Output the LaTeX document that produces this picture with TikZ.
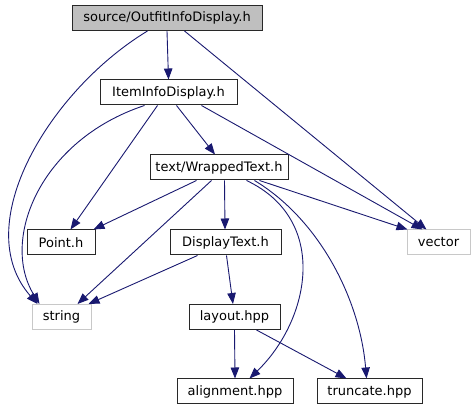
\documentclass[tikz,border=0pt]{standalone}
\usepackage{fontspec}
\usepackage{tikz}
\usetikzlibrary{arrows.meta, positioning}
\newfontfamily\dejavu{DejaVu Sans}
\definecolor{edgeblue}{RGB}{25,25,112}
\definecolor{hdrgray}{RGB}{191,191,191}
\definecolor{extgray}{RGB}{200,200,200}
\definecolor{boxdark}{RGB}{40,40,40}
\tikzset{
  filebox/.style={rectangle, draw=boxdark, fill=white, line width=1pt,
    minimum height=25pt, inner sep=0pt, font=\dejavu\fontsize{13}{15}\selectfont},
  rootbox/.style={filebox, fill=hdrgray},
  extbox/.style={filebox, draw=extgray},
  arrow/.style={-{Triangle[length=11pt,width=8.5pt]}, line width=0.9pt, color=edgeblue}
}
\begin{document}
\begin{tikzpicture}[x=1pt, y=-1pt]
  \useasboundingbox (0,0) rectangle (475,411);

  \node[rootbox, minimum width=190pt] (outfit) at (167,18) {source/OutfitInfoDisplay.h};
  \node[filebox, minimum width=137pt] (item) at (168.5,92.5) {ItemInfoDisplay.h};
  \node[filebox, minimum width=138pt] (wrapped) at (219,167.5) {text/WrappedText.h};
  \node[filebox, minimum width=68pt] (point) at (61,242.5) {Point.h};
  \node[filebox, minimum width=111pt] (display) at (225.5,242.5) {DisplayText.h};
  \node[extbox, minimum width=63pt] (vector) at (438.5,242.5) {vector};
  \node[extbox, minimum width=59pt] (string) at (61.5,317) {string};
  \node[filebox, minimum width=91pt] (layout) at (234.5,317) {layout.hpp};
  \node[filebox, minimum width=116pt] (align) at (235,391.5) {alignment.hpp};
  \node[filebox, minimum width=105pt] (trunc) at (369.5,391.5) {truncate.hpp};

  % source/OutfitInfoDisplay.h
  \draw[arrow] (outfit.south) -- (item.north);
  \draw[arrow] ([xshift=76pt]outfit.south west) .. controls (50,90) and (-32,225) .. ([xshift=6pt]string.north west);
  \draw[arrow] ([xshift=113pt]outfit.south west) -- ([xshift=20pt]vector.north west);

  % ItemInfoDisplay.h
  \draw[arrow] ([xshift=77pt]item.south west) -- ([xshift=-4pt]wrapped.north);
  \draw[arrow] ([xshift=58pt]item.south west) -- ([xshift=-25pt]point.north east);
  \draw[arrow] ([xshift=45pt]item.south west) .. controls (40,140) and (0,240) .. ([xshift=8pt]string.north west);
  \draw[arrow] ([xshift=102pt]item.south west) -- ([xshift=16pt]vector.north west);

  % text/WrappedText.h
  \draw[arrow] ([xshift=47pt]wrapped.south west) -- ([xshift=-2pt]point.north east);
  \draw[arrow] ([xshift=62pt]wrapped.south west) -- ([xshift=-14pt]string.north east);
  \draw[arrow] ([xshift=75pt]wrapped.south west) -- ([xshift=-0.5pt]display.north);
  \draw[arrow] ([xshift=110pt]wrapped.south west) -- ([xshift=1pt]vector.north west);
  \draw[arrow] ([xshift=97pt]wrapped.south west) .. controls (330,220) and (310,320) .. ([xshift=73pt]align.north west);
  \draw[arrow] ([xshift=105pt]wrapped.south west) .. controls (320,220) and (360,300) .. ([xshift=50pt]trunc.north west);

  % DisplayText.h
  \draw[arrow] ([xshift=28pt]display.south west) -- ([xshift=-3pt]string.north east);
  \draw[arrow] ([xshift=57pt]display.south west) -- ([xshift=-1.5pt]layout.north);

  % layout.hpp
  \draw[arrow] (layout.south) -- (align.north);
  \draw[arrow] ([xshift=68pt]layout.south west) -- ([xshift=30pt]trunc.north west);
\end{tikzpicture}
\end{document}
